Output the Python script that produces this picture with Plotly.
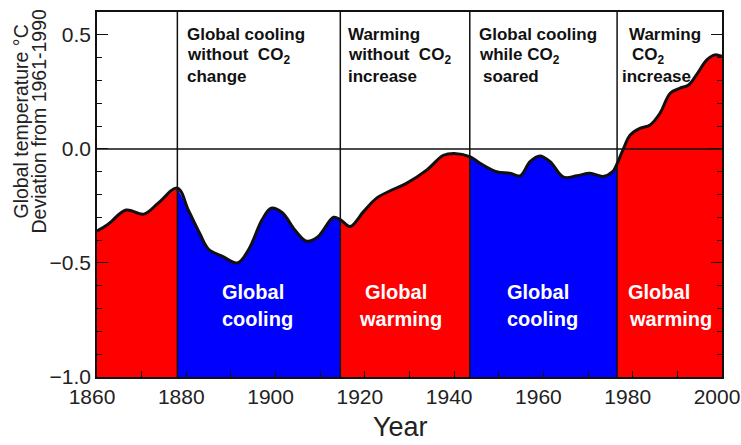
import plotly.graph_objects as go

# ---- data ----
years = [1860, 1862.5, 1866.5, 1870.5, 1873.7, 1878,
         1880.5, 1883, 1885, 1888, 1891.5, 1894, 1897, 1899, 1901.5, 1904.5,
         1907, 1909.5, 1913, 1914.5,
         1916.7, 1919.7, 1922.7, 1926.4, 1929.4, 1933.9, 1937.6, 1940, 1943.5,
         1945.8, 1949.5, 1952.5, 1954.8, 1957, 1959.2, 1961.5, 1964.5, 1967.5,
         1970.4, 1973.4, 1975.5, 1976.5,
         1977.9, 1979.4, 1981.6, 1983.9, 1986.1, 1988.4, 1990.6, 1992.5,
         1994.3, 1996.6, 1998.4, 2000]
temps = [-0.36, -0.33, -0.268, -0.286, -0.238, -0.172,
         -0.27, -0.37, -0.44, -0.47, -0.50, -0.44, -0.31, -0.26, -0.28, -0.36,
         -0.405, -0.385, -0.30, -0.31,
         -0.34, -0.275, -0.215, -0.177, -0.15, -0.092, -0.028, -0.02, -0.034,
         -0.063, -0.10, -0.107, -0.118, -0.056, -0.031, -0.056, -0.124, -0.118,
         -0.107, -0.121, -0.10, -0.065,
         0.0, 0.06, 0.09, 0.105, 0.156, 0.244, 0.266, 0.28,
         0.325, 0.39, 0.412, 0.405]

period_bounds = [1860, 1878, 1914.5, 1943.5, 1976.5, 2000]
period_colors = ["#FF0000", "#0000FF", "#FF0000", "#0000FF", "#FF0000"]

# top explanatory labels: one entry per text line
top_lines = ["Global cooling", "without\u00a0\u00a0CO<sub>2</sub>", "change",
             "Warming", "without\u00a0\u00a0CO<sub>2</sub>", "increase",
             "Global cooling", "while CO<sub>2</sub>", "soared",
             "Warming", "CO<sub>2</sub>", "increase"]
top_lines_x = [1879.7, 1879.7, 1879.7,
               1915.8, 1915.8, 1915.8,
               1945.1, 1945.1, 1946.0,
               1978.7, 1979.4, 1977.2]
top_lines_y = [0.50, 0.405, 0.316] * 4

bottom_lines = ["Global", "cooling", "Global", "warming",
                "Global", "cooling", "Global", "warming"]
bottom_lines_x = [1887.6, 1887.6, 1919.6, 1918.2,
                  1951.4, 1951.4, 1978.5, 1978.7]
bottom_lines_y = [-0.627, -0.746] * 4

y_ticks = [-1.0, -0.5, 0.0, 0.5]
x_ticks = [1860, 1880, 1900, 1920, 1940, 1960, 1980, 2000]

X_MIN, X_MAX = 1860, 2000
Y_MIN, Y_MAX = -1.0, 0.6
FONT = "Liberation Sans, Arial, Helvetica, sans-serif"

fig = go.Figure()

# coloured fills between the curve and the bottom of the axis
for i, col in enumerate(period_colors):
    a, b = period_bounds[i], period_bounds[i + 1]
    seg_x = [x for x in years if a <= x <= b]
    seg_y = [t for x, t in zip(years, temps) if a <= x <= b]
    fig.add_trace(go.Scatter(x=[a, b], y=[Y_MIN, Y_MIN], mode="lines",
                             line=dict(width=0), hoverinfo="skip",
                             showlegend=False))
    fig.add_trace(go.Scatter(x=seg_x, y=seg_y, mode="lines", fill="tonexty",
                             fillcolor=col, line=dict(width=0, shape="spline"),
                             hoverinfo="skip", showlegend=False))

# outline of the curve
fig.add_trace(go.Scatter(x=years, y=temps, mode="lines",
                         line=dict(color="#111111", width=3, shape="spline"),
                         showlegend=False))

shapes = []
for b in period_bounds[1:-1]:
    shapes.append(dict(type="line", xref="x", yref="y", x0=b, x1=b,
                       y0=Y_MIN, y1=Y_MAX, layer="above",
                       line=dict(color="#111111", width=1.5)))
shapes.append(dict(type="line", xref="x", yref="y", x0=X_MIN, x1=X_MAX,
                   y0=0, y1=0, layer="above",
                   line=dict(color="#111111", width=1.5)))

annotations = []
for txt, xx, yy in zip(top_lines, top_lines_x, top_lines_y):
    annotations.append(dict(x=xx, y=yy, xref="x", yref="y", text=txt,
                            showarrow=False, xanchor="left", yanchor="middle",
                            align="left",
                            font=dict(family=FONT, size=17, color="#111111",
                                      weight="bold")))
for txt, xx, yy in zip(bottom_lines, bottom_lines_x, bottom_lines_y):
    annotations.append(dict(x=xx, y=yy, xref="x", yref="y", text=txt,
                            showarrow=False, xanchor="left", yanchor="middle",
                            align="left",
                            font=dict(family=FONT, size=20, color="white",
                                      weight="bold")))
annotations.append(dict(x=-0.1232, y=0.70, xref="paper", yref="paper",
                        text="Global temperature °C",
                        textangle=-90, showarrow=False, xanchor="center",
                        yanchor="middle",
                        font=dict(family=FONT, size=19.5, color="#222222")))
annotations.append(dict(x=-0.0944, y=0.70, xref="paper", yref="paper",
                        text="Deviation from 1961-1990",
                        textangle=-90, showarrow=False, xanchor="center",
                        yanchor="middle",
                        font=dict(family=FONT, size=19.5, color="#222222")))
annotations.append(dict(x=0.485, y=-0.137, xref="paper", yref="paper",
                        text="Year", showarrow=False, xanchor="center",
                        yanchor="middle",
                        font=dict(family=FONT, size=27, color="#222222")))

fig.update_layout(
    width=741, height=445,
    margin=dict(l=97, r=19, t=12, b=68),
    paper_bgcolor="white", plot_bgcolor="white",
    shapes=shapes, annotations=annotations,
    showlegend=False,
    xaxis=dict(range=[X_MIN, X_MAX], tickvals=x_ticks, automargin=False,
               showgrid=False, ticklabeloverflow="allow", ticklabelshift=-5,
               zeroline=False, showline=True, linecolor="#111111",
               linewidth=1.5, mirror=True, ticks="inside", ticklen=6,
               tickcolor="#111111",
               minor=dict(dtick=10, ticks="inside", ticklen=6,
                          tickcolor="#111111"),
               tickfont=dict(family=FONT, size=21, color="#222222")),
    yaxis=dict(range=[Y_MIN, Y_MAX], tickvals=y_ticks, tickformat=".1f",
               automargin=False,
               showgrid=False, zeroline=False, showline=True,
               linecolor="#111111", linewidth=1.5, mirror="ticks",
               ticks="inside", ticklen=11, tickcolor="#111111",
               minor=dict(dtick=0.1, tick0=0, ticks="inside", ticklen=5,
                          tickcolor="#111111"),
               tickfont=dict(family=FONT, size=21, color="#222222")),
)

# remove the default page margin so the figure fills the window exactly
fig.write_html("out.html",
               config={"displayModeBar": False},
               post_script="document.body.style.margin='0';"
                           "document.body.style.overflow='hidden';")
